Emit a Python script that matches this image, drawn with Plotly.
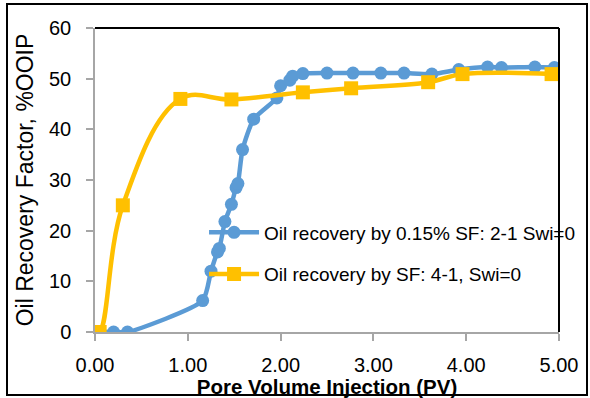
import plotly.graph_objects as go

# Data
pv_blue = [0.0, 0.05, 0.2, 0.35, 1.16, 1.25, 1.32, 1.34, 1.40, 1.47, 1.52, 1.54, 1.59, 1.71,
           1.96, 2.0, 2.1, 2.13, 2.24, 2.5, 2.78, 3.08, 3.33, 3.63, 3.92, 4.23, 4.38, 4.74, 4.95]
rf_blue = [0, 0, 0, 0, 6.2, 12.0, 15.8, 16.5, 21.8, 25.2, 28.5, 29.3, 36.0, 42.0,
           46.2, 48.6, 49.7, 50.5, 51.0, 51.1, 51.1, 51.1, 51.1, 50.9, 51.8, 52.3, 52.2, 52.3, 52.2]

pv_orange = [0.0, 0.05, 0.30, 0.92, 1.47, 2.24, 2.76, 3.59, 3.96, 4.92]
rf_orange = [0, 0, 25.0, 46.0, 45.9, 47.3, 48.1, 49.3, 50.9, 50.9]

name_blue = "Oil recovery by 0.15% SF: 2-1 Swi=0"
name_orange = "Oil recovery by SF: 4-1, Swi=0"

x_ticks = [0, 1, 2, 3, 4, 5]
x_ticklabels = ["0.00", "1.00", "2.00", "3.00", "4.00", "5.00"]
y_ticks = [0, 10, 20, 30, 40, 50, 60]

BLUE = "#5B9BD5"
ORANGE = "#FFC000"
FONT = "Liberation Sans"

fig = go.Figure()
fig.add_trace(go.Scatter(
    x=pv_blue, y=rf_blue, name=name_blue, mode="lines+markers",
    line=dict(color=BLUE, width=4.5, shape="spline", smoothing=0.6),
    marker=dict(symbol="circle", size=13, color=BLUE),
    legendgroup="a",
))
fig.add_trace(go.Scatter(
    x=pv_orange, y=rf_orange, name=name_orange, mode="lines+markers",
    line=dict(color=ORANGE, width=4.5, shape="spline", smoothing=1.1),
    marker=dict(symbol="square", size=14, color=ORANGE),
    legendgroup="b",
))

axis_common = dict(
    showgrid=False, zeroline=False, showline=True, linecolor="#A6A6A6", linewidth=1.5,
    ticks="outside", tickcolor="#A6A6A6", ticklen=7, tickwidth=1.5,
    tickfont=dict(family=FONT, size=20, color="#000000"),
    automargin=False,
)

fig.update_xaxes(
    range=[0, 5], tickvals=x_ticks, ticktext=x_ticklabels, ticklabelstandoff=7,
    title=dict(text="<b>Pore Volume Injection (PV)</b>", standoff=3,
               font=dict(family=FONT, size=20.5, color="#000000")),
    **axis_common,
)
fig.update_yaxes(
    range=[0, 60], tickvals=y_ticks, ticklabelstandoff=11,
    title=dict(text="Oil Recovery Factor, %OOIP", standoff=9,
               font=dict(family=FONT, size=23, color="#000000")),
    **axis_common,
)

# black top and right borders of plot area, and outer chart frame
fig.add_shape(type="line", xref="paper", yref="paper", x0=0, x1=1, y0=1, y1=1,
              line=dict(color="#000000", width=2))
fig.add_shape(type="line", xref="paper", yref="paper", x0=1, x1=1, y0=0, y1=1,
              line=dict(color="#000000", width=2))
fig.add_shape(type="rect", xref="paper", yref="paper",
              x0=(7 - 95) / 464, x1=(587 - 95) / 464,
              y0=(332 - 395) / 304, y1=(332 - 4) / 304,
              line=dict(color="#000000", width=2), layer="below")

fig.update_layout(
    width=590, height=398,
    margin=dict(l=95, r=31, t=28, b=66, autoexpand=False),
    paper_bgcolor="white", plot_bgcolor="white",
    showlegend=True,
    legend=dict(
        x=0.235, y=0.39, xanchor="left", yanchor="top",
        bgcolor="rgba(0,0,0,0)", itemwidth=50, tracegroupgap=14,
        font=dict(family=FONT, size=19, color="#000000"),
    ),
)

fig.write_html("out.html")
